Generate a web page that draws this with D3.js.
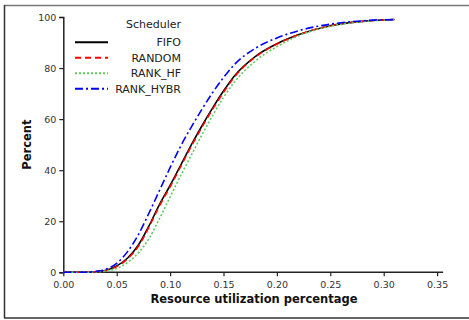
<!DOCTYPE html>
<html>
<head>
<meta charset="utf-8">
<script src="https://cdn.jsdelivr.net/npm/d3@7"></script>
<style>
  body { margin: 0; background: #fff; }
  text { font-family: "DejaVu Sans", Verdana, sans-serif; }
</style>
</head>
<body>
<div id="chart"></div>
<script>
// utilization values (x) shared by all series
let util = [0, 0.02, 0.03, 0.04, 0.05, 0.06, 0.07, 0.08, 0.09, 0.10, 0.11, 0.12, 0.13, 0.14, 0.15, 0.16, 0.18, 0.20, 0.22, 0.25, 0.28, 0.31]
let fifo     = [0, 0, 0.2, 0.8, 2.5, 5.5, 10.5, 18.0, 26.5, 34.0, 42.0, 50.0, 57.5, 64.5, 71.0, 76.8, 84.6, 89.5, 93.0, 96.6, 98.3, 99.0]
let random   = [0, 0, 0.2, 0.7, 2.3, 5.2, 10.0, 17.5, 26.0, 33.5, 41.5, 49.5, 57.0, 64.0, 70.5, 76.4, 84.4, 89.4, 93.0, 96.6, 98.3, 99.0]
let rankHf   = [0, 0, 0.1, 0.5, 1.5, 3.8, 7.5, 13.0, 21.0, 29.5, 38.0, 46.0, 54.0, 61.5, 68.5, 74.4, 82.8, 88.4, 92.6, 96.4, 98.2, 99.0]
let rankHybr = [0, 0, 0.3, 1.2, 3.5, 8.0, 14.5, 23.0, 32.0, 41.0, 49.5, 57.0, 64.0, 70.5, 76.3, 81.3, 87.8, 91.8, 94.6, 97.2, 98.5, 99.0]

let seriesNames = ['FIFO', 'RANDOM', 'RANK_HF', 'RANK_HYBR']
let seriesValues = [fifo, random, rankHf, rankHybr]
let colors = ['#000000', '#ff0000', '#5ccc5c', '#0000ff']
let dashes = [null, '6,4', '2,2', '8,3,2,3']

let xTicks = [0, 0.05, 0.10, 0.15, 0.20, 0.25, 0.30, 0.35]
let yTicks = [0, 20, 40, 60, 80, 100]

let width = 469, height = 320

let svg = d3.select('#chart').append('svg')
  .attr('width', width)
  .attr('height', height)

// frame
svg.append('line').attr('x1', 4).attr('x2', width).attr('y1', 5.5).attr('y2', 5.5)
  .attr('stroke', '#777').attr('stroke-width', 1.5)
svg.append('line').attr('x1', 4.5).attr('x2', 4.5).attr('y1', 5).attr('y2', 318)
  .attr('stroke', '#333').attr('stroke-width', 1.5)
svg.append('line').attr('x1', 4).attr('x2', width).attr('y1', 318).attr('y2', 318)
  .attr('stroke', '#333').attr('stroke-width', 1.5)

let x = d3.scaleLinear().domain([0, 0.35]).range([63.3, 437.1])
let y = d3.scaleLinear().domain([0, 100]).range([272.3, 17])

let g = svg.append('g')

let xAxis = g.append('g')
  .attr('transform', 'translate(0,' + y(0) + ')')
  .call(d3.axisBottom(x).tickValues(xTicks).tickFormat(d3.format('.2f')).tickSizeOuter(0).tickSize(4))
xAxis.select('.domain').attr('d', 'M' + x(0) + ',0H' + (x(0.35) + 6)).attr('stroke', '#222').attr('stroke-width', 1.5)

let yAxis = g.append('g')
  .attr('transform', 'translate(' + x(0) + ',0)')
  .call(d3.axisLeft(y).tickValues(yTicks).tickSizeOuter(0).tickSize(4))
yAxis.select('.domain').attr('stroke', '#222').attr('stroke-width', 1.5)

g.selectAll('.tick line').attr('stroke', '#222').attr('stroke-width', 1.2)
g.selectAll('.tick text').attr('font-size', 9.5).attr('fill', '#333')
  .attr('font-family', '"DejaVu Sans", Verdana, sans-serif')
xAxis.selectAll('.tick text').attr('dy', '0.95em')

// axis titles
svg.append('text')
  .attr('x', 254).attr('y', 303)
  .attr('text-anchor', 'middle')
  .attr('font-size', 11.5).attr('font-weight', 'bold').attr('fill', '#111')
  .text('Resource utilization percentage')

svg.append('text')
  .attr('transform', 'translate(31,' + y(50) + ') rotate(-90)')
  .attr('text-anchor', 'middle')
  .attr('font-size', 11.5).attr('font-weight', 'bold').attr('fill', '#111')
  .text('Percent')

// curves
let line = d3.line()
  .x(function (d, i) { return x(util[i]) })
  .y(function (d) { return y(d) })
  .curve(d3.curveMonotoneX)

seriesValues.forEach(function (vals, i) {
  g.append('path')
    .attr('d', line(vals))
    .attr('fill', 'none')
    .attr('stroke', colors[i])
    .attr('stroke-width', 1.6)
    .attr('stroke-dasharray', dashes[i])
})

// legend
let legend = svg.append('g')
legend.append('text')
  .attr('x', 181).attr('y', 28)
  .attr('text-anchor', 'end')
  .attr('font-size', 11).attr('fill', '#222')
  .text('Scheduler')

seriesNames.forEach(function (name, i) {
  let ly = 42.3 + i * 15.5
  legend.append('line')
    .attr('x1', 75).attr('x2', 108)
    .attr('y1', ly).attr('y2', ly)
    .attr('stroke', colors[i])
    .attr('stroke-width', 2)
    .attr('stroke-dasharray', dashes[i])
  legend.append('text')
    .attr('x', 181).attr('y', ly + 4)
    .attr('text-anchor', 'end')
    .attr('font-size', 11).attr('fill', '#222')
    .text(name)
})
</script>
</body>
</html>
